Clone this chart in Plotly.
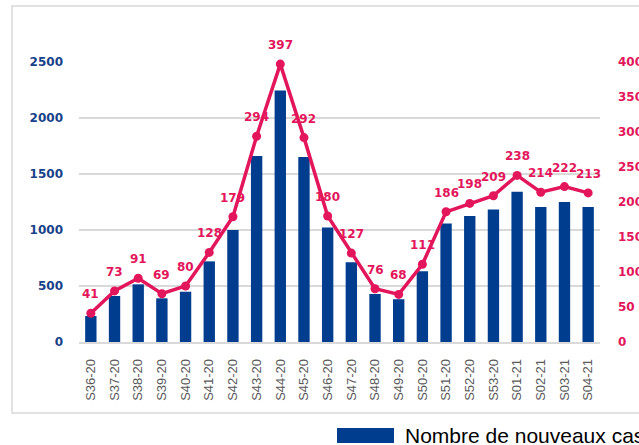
import plotly.graph_objects as go

weeks = ["S36-20", "S37-20", "S38-20", "S39-20", "S40-20", "S41-20", "S42-20", "S43-20",
         "S44-20", "S45-20", "S46-20", "S47-20", "S48-20", "S49-20", "S50-20", "S51-20",
         "S52-20", "S53-20", "S01-21", "S02-21", "S03-21", "S04-21"]
new_cases = [232, 411, 515, 390, 449, 720, 1000, 1661, 2245, 1652, 1023, 713, 429, 382,
             632, 1059, 1125, 1184, 1342, 1205, 1250, 1205]
rate = [41, 73, 91, 69, 80, 128, 179, 294, 397, 292, 180, 127, 76, 68, 111, 186, 198,
        209, 238, 214, 222, 213]
left_ticks = [0, 500, 1000, 1500, 2000, 2500]
right_ticks = [0, 50, 100, 150, 200, 250, 300, 350, 400]
legend_label = "Nombre de nouveaux cas"

BLUE = "#003D8F"
TICKBLUE = "#17418A"
PINK = "#E3165B"

W, H = 639, 445
L, R, T, B = 79, 600, 62, 342
pw, ph = R - L, B - T

def px(x):
    return (x - L) / pw

def py(y):
    return (B - y) / ph

fig = go.Figure()
fig.add_trace(go.Bar(x=weeks, y=new_cases, marker=dict(color=BLUE, line=dict(width=0)),
                     name=legend_label, yaxis="y", showlegend=False))
fig.add_trace(go.Scatter(x=weeks, y=rate, mode="lines+markers", yaxis="y2",
                         line=dict(color=PINK, width=3.5),
                         marker=dict(color=PINK, size=9), showlegend=False,
                         cliponaxis=False))

annotations = []
for w, v in zip(weeks, rate):
    annotations.append(dict(x=w, y=v, xref="x", yref="y2", text=str(v), showarrow=False,
                            yshift=19, font=dict(family="DejaVu Sans", size=12, color=PINK,
                                                 weight="bold")))
annotations.append(dict(x=px(403), y=py(435), xref="paper", yref="paper", text=legend_label,
                        showarrow=False, xanchor="left", yanchor="middle",
                        font=dict(family="Liberation Sans", size=21, color="#000000")))

shapes = [
    dict(type="rect", xref="paper", yref="paper", x0=px(12), x1=px(700), y0=py(413),
         y1=py(6), line=dict(color="#D9D9D9", width=1.5), fillcolor="rgba(0,0,0,0)",
         layer="below"),
    dict(type="rect", xref="paper", yref="paper", x0=px(337), x1=px(394), y0=py(443),
         y1=py(428), line=dict(width=0), fillcolor=BLUE),
]

fig.update_layout(
    width=W, height=H,
    margin=dict(l=L, r=W - R, t=T, b=H - B, pad=0, autoexpand=False),
    paper_bgcolor="white", plot_bgcolor="white",
    bargap=0.52,
    annotations=annotations, shapes=shapes,
    xaxis=dict(type="category", tickangle=-90, showgrid=False, showline=True,
               linecolor="#D9D9D9", linewidth=1.5, ticks="", ticklabelstandoff=10,
               automargin=False,
               tickfont=dict(family="Liberation Sans", size=13, color="#595959"),
               range=[-0.5, 21.5]),
    yaxis=dict(range=[0, 2500], tickvals=left_ticks, showgrid=True, gridcolor="#D9D9D9",
               gridwidth=1.5, zeroline=False, showline=False, ticks="",
               ticklabelstandoff=15, automargin=False,
               tickfont=dict(family="DejaVu Sans", size=12, color=TICKBLUE, weight="bold")),
    yaxis2=dict(range=[0, 400], tickvals=right_ticks, overlaying="y", side="right",
                showgrid=False, zeroline=False, showline=False, ticks="",
                ticklabelstandoff=17, automargin=False,
                tickfont=dict(family="DejaVu Sans", size=12, color=PINK, weight="bold")),
)

fig.write_html("out.html", config={"displayModeBar": False},
               post_script="document.body.style.margin='0px';")
